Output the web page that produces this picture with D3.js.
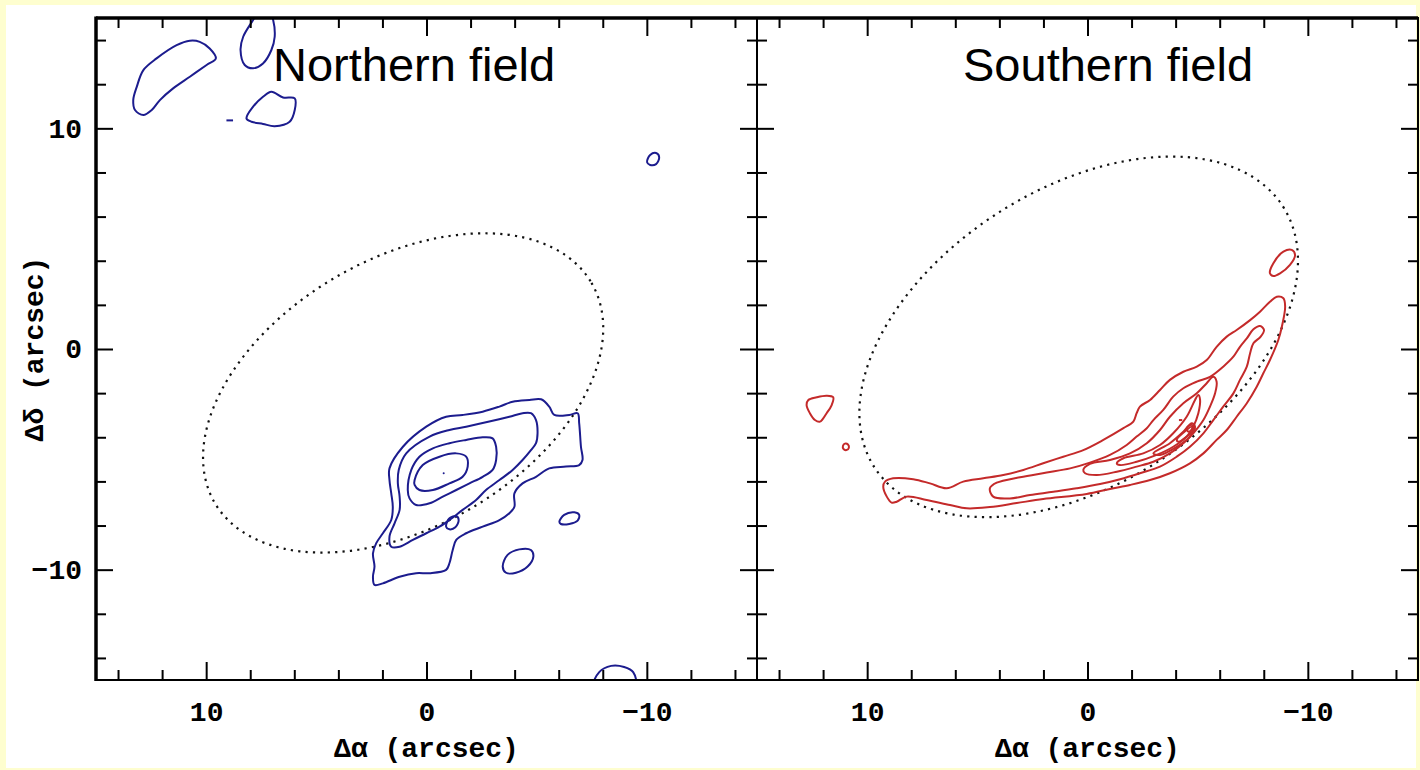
<!DOCTYPE html>
<html>
<head>
<meta charset="utf-8">
<script src="https://cdn.jsdelivr.net/npm/d3@7"></script>
<style>
  html, body { margin: 0; padding: 0; background: #fefecf; }
  svg { display: block; }
</style>
</head>
<body>
<svg id="chart" width="1420" height="770"></svg>
<script>
// Offsets in arcsec: [Δα, Δδ]. Each array is one closed contour.

// ---- Northern field (blue) ----
const northLevel1 = [[1.68,-5.41],[1.07,-4.43],[0.01,-3.52],[-0.89,-3.07],[-1.64,-2.99],[-2.55,-2.84],[-3.31,-2.61],[-3.91,-2.39],[-4.67,-2.31],[-5.20,-2.28],[-5.57,-2.61],[-5.80,-2.99],[-6.48,-2.99],[-6.86,-2.91],[-6.93,-3.37],[-7.01,-4.43],[-7.08,-5.03],[-6.93,-5.26],[-6.33,-5.33],[-5.57,-5.41],[-4.97,-5.79],[-4.36,-6.09],[-3.99,-6.54],[-3.99,-7.15],[-3.76,-7.44],[-3.31,-7.75],[-2.55,-8.05],[-1.80,-8.35],[-1.35,-8.65],[-1.19,-9.11],[-1.04,-9.71],[-0.89,-10.01],[-0.14,-10.16],[0.47,-10.16],[1.22,-10.32],[1.98,-10.62],[2.36,-10.69],[2.43,-10.32],[2.36,-9.86],[2.43,-9.26],[2.28,-8.80],[1.98,-8.35],[1.60,-7.75],[1.53,-7.15],[1.60,-6.54],[1.68,-5.94]];
const northLevel2 = [[1.26,-5.48],[0.92,-4.73],[-0.14,-3.97],[-1.04,-3.67],[-1.80,-3.52],[-2.85,-3.29],[-3.76,-3.07],[-4.36,-2.91],[-4.74,-2.91],[-4.97,-3.22],[-5.04,-3.82],[-4.97,-4.27],[-4.74,-4.58],[-4.36,-5.03],[-3.91,-5.48],[-3.31,-5.94],[-2.70,-6.39],[-2.25,-6.84],[-1.64,-7.29],[-1.04,-7.75],[-0.59,-8.05],[0.01,-8.35],[0.62,-8.65],[1.22,-8.96],[1.60,-8.96],[1.68,-8.50],[1.45,-7.90],[1.22,-7.29],[1.22,-6.69],[1.30,-6.09]];
const northLevel3 = [[0.85,-6.39],[0.69,-5.48],[0.32,-4.88],[-0.29,-4.50],[-1.04,-4.27],[-1.80,-4.12],[-2.55,-4.00],[-3.00,-4.05],[-3.16,-4.43],[-3.16,-5.03],[-3.00,-5.48],[-2.55,-5.79],[-1.95,-6.09],[-1.35,-6.39],[-0.74,-6.69],[-0.14,-6.99],[0.47,-7.07],[0.77,-6.77]];
const northLevel4 = [[0.54,-5.94],[0.17,-5.26],[-0.59,-4.88],[-1.35,-4.73],[-1.80,-4.88],[-1.87,-5.33],[-1.64,-5.79],[-1.04,-6.09],[-0.29,-6.39],[0.32,-6.39],[0.54,-6.16]];
const northSpotA = [[-0.89,-8.05],[-1.04,-7.67],[-1.35,-7.57],[-1.46,-7.75],[-1.31,-8.08],[-1.04,-8.17]];
const northSpotB = [[-6.03,-7.83],[-6.25,-7.52],[-6.71,-7.40],[-6.93,-7.52],[-6.86,-7.78],[-6.48,-7.93],[-6.10,-7.93]];
const northSpotC = [[-3.46,-9.86],[-3.68,-9.33],[-4.21,-9.08],[-4.74,-9.11],[-4.85,-9.41],[-4.59,-9.86],[-4.06,-10.14],[-3.61,-10.14]];
const northSpotD = [[13.23,10.83],[13.31,11.28],[13.15,11.88],[12.85,12.64],[12.25,13.17],[11.34,13.77],[10.74,13.97],[10.29,13.92],[9.84,13.62],[9.56,13.17],[9.98,12.87],[10.74,12.34],[11.50,11.81],[12.10,11.28],[12.47,10.83],[12.85,10.60]];
const northSpotE = [[7.87,14.91],[8.32,14.15],[8.44,13.55],[8.25,12.87],[7.87,12.72],[7.42,12.94],[7.04,13.55],[6.89,14.15],[6.96,14.91],[7.11,15.27],[7.66,15.27]];
const northSpotF = [[8.17,10.45],[7.87,10.98],[7.42,11.43],[7.04,11.66],[6.51,11.40],[5.98,11.36],[5.98,10.83],[6.21,10.30],[6.89,10.10],[7.42,10.20],[7.94,10.30]];
const northSpotG = [[-10.01,8.47],[-10.15,8.79],[-10.42,8.88],[-10.56,8.70],[-10.42,8.38],[-10.15,8.34]];
const northSpotH = [[-7.61,-15.22],[-7.84,-14.64],[-8.38,-14.36],[-8.97,-14.41],[-9.38,-14.64],[-9.47,-15.22]];
const northDash = [[9.08,10.36],[8.78,10.36]];
const northPeak = [-0.78, -5.63];
// disc ellipse: centre Δα, centre Δδ, semi-major, semi-minor (arcsec), tilt (deg)
const northEllipse = [1.06, -1.99, 9.9, 6.07, 30.3];

// ---- Southern field (red) ----
const southLevel1 = [[9.27,-6.24],[9.19,-6.01],[8.82,-5.86],[7.91,-5.90],[7.15,-6.09],[6.39,-6.31],[5.64,-6.01],[4.73,-5.86],[3.82,-5.71],[2.91,-5.48],[2.01,-5.18],[1.10,-4.88],[0.19,-4.58],[-0.72,-4.12],[-1.63,-3.59],[-2.08,-3.29],[-2.23,-2.91],[-2.38,-2.61],[-2.84,-2.31],[-3.29,-1.86],[-3.74,-1.40],[-4.35,-1.03],[-4.96,-0.80],[-5.41,-0.50],[-5.86,0.10],[-6.32,0.56],[-6.77,0.86],[-7.38,1.31],[-7.83,1.69],[-8.28,2.14],[-8.59,2.37],[-8.89,2.30],[-8.97,1.92],[-8.82,1.01],[-8.66,0.41],[-8.28,-0.50],[-7.98,-1.10],[-7.68,-1.71],[-7.23,-2.46],[-6.77,-3.07],[-6.32,-3.67],[-5.86,-4.12],[-5.26,-4.73],[-4.65,-5.18],[-3.74,-5.63],[-2.84,-5.94],[-1.93,-6.16],[-1.02,-6.34],[0.04,-6.57],[2.01,-6.80],[3.21,-6.98],[4.43,-7.16],[5.48,-7.22],[6.24,-7.07],[7.30,-6.84],[8.21,-6.69],[8.66,-6.92],[8.89,-6.96],[9.11,-6.69]];
const southLevel2 = [[4.43,-6.31],[4.12,-6.06],[3.06,-5.81],[1.85,-5.60],[0.79,-5.41],[-0.11,-5.15],[-1.02,-4.80],[-1.78,-4.35],[-2.23,-3.97],[-2.69,-3.59],[-2.99,-3.22],[-3.44,-2.76],[-3.89,-2.16],[-4.35,-1.78],[-4.96,-1.48],[-5.56,-1.26],[-6.16,-0.80],[-6.62,-0.35],[-6.92,0.10],[-7.23,0.48],[-7.53,0.89],[-7.83,1.04],[-8.01,0.86],[-7.86,0.56],[-7.53,0.26],[-7.38,-0.19],[-7.23,-0.80],[-6.92,-1.40],[-6.62,-2.01],[-6.16,-2.61],[-5.71,-3.22],[-5.26,-3.82],[-4.65,-4.43],[-4.05,-4.88],[-3.29,-5.33],[-2.38,-5.63],[-1.48,-5.90],[-0.57,-6.12],[0.49,-6.31],[1.55,-6.47],[2.61,-6.62],[3.52,-6.77],[4.28,-6.69]];
const southLevel3 = [[0.19,-5.48],[-0.11,-5.21],[-1.02,-5.03],[-1.93,-4.73],[-2.69,-4.27],[-3.29,-3.67],[-3.74,-3.07],[-4.35,-2.46],[-4.96,-2.01],[-5.41,-1.55],[-5.71,-1.26],[-5.86,-1.48],[-5.79,-2.01],[-5.56,-2.61],[-5.26,-3.22],[-4.80,-3.82],[-4.35,-4.27],[-3.74,-4.73],[-2.99,-5.11],[-2.23,-5.33],[-1.33,-5.56],[-0.42,-5.71],[0.11,-5.63]];
const southLevel4 = [[-1.33,-5.18],[-1.63,-4.95],[-2.53,-4.73],[-3.29,-4.35],[-3.89,-3.82],[-4.50,-3.07],[-4.88,-2.31],[-5.03,-2.08],[-5.11,-2.31],[-5.03,-2.91],[-4.80,-3.52],[-4.50,-3.97],[-3.89,-4.43],[-3.14,-4.80],[-2.23,-5.11],[-1.48,-5.26]];
const southLevel5 = [[-2.99,-4.73],[-3.74,-4.27],[-4.35,-3.75],[-4.73,-3.37],[-4.88,-3.52],[-4.65,-3.97],[-4.05,-4.43],[-3.29,-4.80]];
const southLevel6 = [[-4.05,-4.12],[-4.50,-3.67],[-4.73,-3.52],[-4.78,-3.70],[-4.50,-3.97],[-4.13,-4.20]];
const southLevel7 = [[-4.50,-3.59],[-4.73,-3.44],[-4.80,-3.59],[-4.58,-3.75]];
const southSpotA = [[-8.28,3.43],[-8.43,3.88],[-8.89,4.41],[-9.27,4.49],[-9.42,4.26],[-9.19,3.81],[-8.74,3.43],[-8.43,3.31]];
const southSpotB = [[12.75,-2.54],[12.67,-2.31],[12.29,-2.19],[11.84,-2.12],[11.54,-2.19],[11.61,-2.54],[11.84,-2.91],[12.14,-3.29],[12.37,-3.22],[12.60,-2.91]];
const southSpotC = [[11.10,-4.40],[11.01,-4.29],[10.87,-4.33],[10.83,-4.47],[10.94,-4.58],[11.08,-4.53]];
const southDash = [[-4.15,-3.22],[-4.30,-3.22]];
const southEllipse = [0.40, 0.55, 11.0, 6.7, 32.5];

// ---- axes ----
const axisDomain = [15, -15];
const majorTicks = [10, 0, -10];
const minorTicks = [14, 12, 8, 6, 4, 2, -2, -4, -6, -8, -12, -14];

const panelNames = ["Northern field", "Southern field"];

const svg = d3.select("#chart");
const W = 1420, H = 770;
const plotTop = 18, plotH = 662, plotW = 661;
const panelLeft = [96, 757];

svg.append("rect").attr("width", W).attr("height", H).attr("fill", "#fefecf");
svg.append("rect").attr("x", 6).attr("y", 5).attr("width", 1410).attr("height", 763).attr("fill", "#ffffff");

const tickFont = "'Liberation Mono', 'DejaVu Sans Mono', monospace";

const panels = [
  {
    name: panelNames[0], color: "#1c1c8e",
    closed: [northLevel1, northLevel2, northLevel3, northLevel4, northSpotA, northSpotB, northSpotC, northSpotD, northSpotE, northSpotF, northSpotG, northSpotH],
    open: [northDash], peak: northPeak, ellipse: northEllipse,
    leftLabels: true, titleX: 273
  },
  {
    name: panelNames[1], color: "#c42a2a",
    closed: [southLevel1, southLevel2, southLevel3, southLevel4, southLevel5, southLevel6, southLevel7, southSpotA, southSpotB, southSpotC],
    open: [southDash], peak: null, ellipse: southEllipse,
    leftLabels: false, titleX: 963
  }
];

panels.forEach((p, i) => {
  const x0 = panelLeft[i];
  const x = d3.scaleLinear().domain(axisDomain).range([x0, x0 + plotW]);
  const y = d3.scaleLinear().domain([-15, 15]).range([plotTop + plotH, plotTop]);
  const g = svg.append("g");

  const clipId = "clip" + i;
  svg.append("clipPath").attr("id", clipId)
    .append("rect").attr("x", x0).attr("y", plotTop).attr("width", plotW).attr("height", plotH);

  const plot = g.append("g").attr("clip-path", `url(#${clipId})`);

  // disc ellipse, dotted
  const [ecx, ecy, ea, eb, tilt] = p.ellipse;
  const cxp = x(ecx), cyp = y(ecy);
  plot.append("ellipse")
    .attr("cx", cxp).attr("cy", cyp)
    .attr("rx", Math.abs(x(ea) - x(0)))
    .attr("ry", Math.abs(y(eb) - y(0)))
    .attr("transform", `rotate(${-tilt},${cxp},${cyp})`)
    .attr("fill", "none").attr("stroke", "#111")
    .attr("stroke-width", 2.2)
    .attr("stroke-dasharray", "2.2 5.2");

  const lineClosed = d3.line().x(d => x(d[0])).y(d => y(d[1])).curve(d3.curveCatmullRomClosed.alpha(0.5));
  const lineOpen = d3.line().x(d => x(d[0])).y(d => y(d[1]));

  plot.selectAll("path.c").data(p.closed).join("path")
    .attr("class", "c")
    .attr("d", lineClosed)
    .attr("fill", "none").attr("stroke", p.color).attr("stroke-width", 2)
    .attr("stroke-linejoin", "round");

  plot.selectAll("path.o").data(p.open).join("path")
    .attr("class", "o")
    .attr("d", lineOpen)
    .attr("fill", "none").attr("stroke", p.color).attr("stroke-width", 2);

  if (p.peak) {
    plot.append("circle").attr("cx", x(p.peak[0])).attr("cy", y(p.peak[1]))
      .attr("r", 1).attr("fill", p.color);
  }

  // axes: ticks point inward on all four sides
  const addAxis = (axisGen, tx, ty, vals, len, labels) => {
    const a = axisGen.tickValues(vals).tickSizeInner(-len).tickSizeOuter(0).tickPadding(14)
      .tickFormat(labels ? (d => d < 0 ? "\u2212" + Math.abs(d) : String(d)) : () => "");
    const ag = g.append("g").attr("transform", `translate(${tx},${ty})`).call(a);
    ag.select(".domain").remove();
    ag.selectAll(".tick line").attr("stroke", "#000").attr("stroke-width", 2);
    ag.selectAll(".tick text")
      .attr("fill", "#000")
      .style("font-family", tickFont).style("font-size", "28px").style("font-weight", "bold");
    return ag;
  };

  addAxis(d3.axisBottom(x), 0, plotTop + plotH, minorTicks, 10, false);
  const bx = addAxis(d3.axisBottom(x), 0, plotTop + plotH, majorTicks, 18, true);
  bx.selectAll(".tick text").attr("dy", "0.95em");
  addAxis(d3.axisTop(x), 0, plotTop, minorTicks, 10, false);
  addAxis(d3.axisTop(x), 0, plotTop, majorTicks, 18, false);
  addAxis(d3.axisLeft(y), x0, 0, minorTicks, 10, false);
  addAxis(d3.axisLeft(y), x0, 0, majorTicks, 17, p.leftLabels);
  addAxis(d3.axisRight(y), x0 + plotW, 0, minorTicks, 10, false);
  addAxis(d3.axisRight(y), x0 + plotW, 0, majorTicks, 17, false);

  // frame
  g.append("rect").attr("x", x0).attr("y", plotTop).attr("width", plotW).attr("height", plotH)
    .attr("fill", "none").attr("stroke", "#000").attr("stroke-width", 2);

  // axis title
  g.append("text")
    .attr("x", x(0)).attr("y", 757)
    .attr("text-anchor", "middle")
    .style("font-family", tickFont).style("font-size", "28px").style("font-weight", "bold")
    .text("\u0394\u03b1 (arcsec)");

  // panel title
  g.append("text")
    .attr("x", p.titleX).attr("y", 81)
    .style("font-family", "'Liberation Sans', Arial, sans-serif").style("font-size", "47px")
    .text(p.name);
});

// heavier left and top borders
svg.append("line").attr("x1", 96).attr("x2", 96).attr("y1", plotTop - 1.5).attr("y2", plotTop + plotH + 1)
  .attr("stroke", "#000").attr("stroke-width", 3.5);
svg.append("line").attr("x1", 96).attr("x2", 757 + plotW).attr("y1", plotTop).attr("y2", plotTop)
  .attr("stroke", "#000").attr("stroke-width", 3.5);

svg.append("text")
  .attr("transform", `translate(43,349) rotate(-90)`)
  .attr("text-anchor", "middle")
  .style("font-family", tickFont).style("font-size", "28px").style("font-weight", "bold")
  .text("\u0394\u03b4 (arcsec)");
</script>
</body>
</html>
